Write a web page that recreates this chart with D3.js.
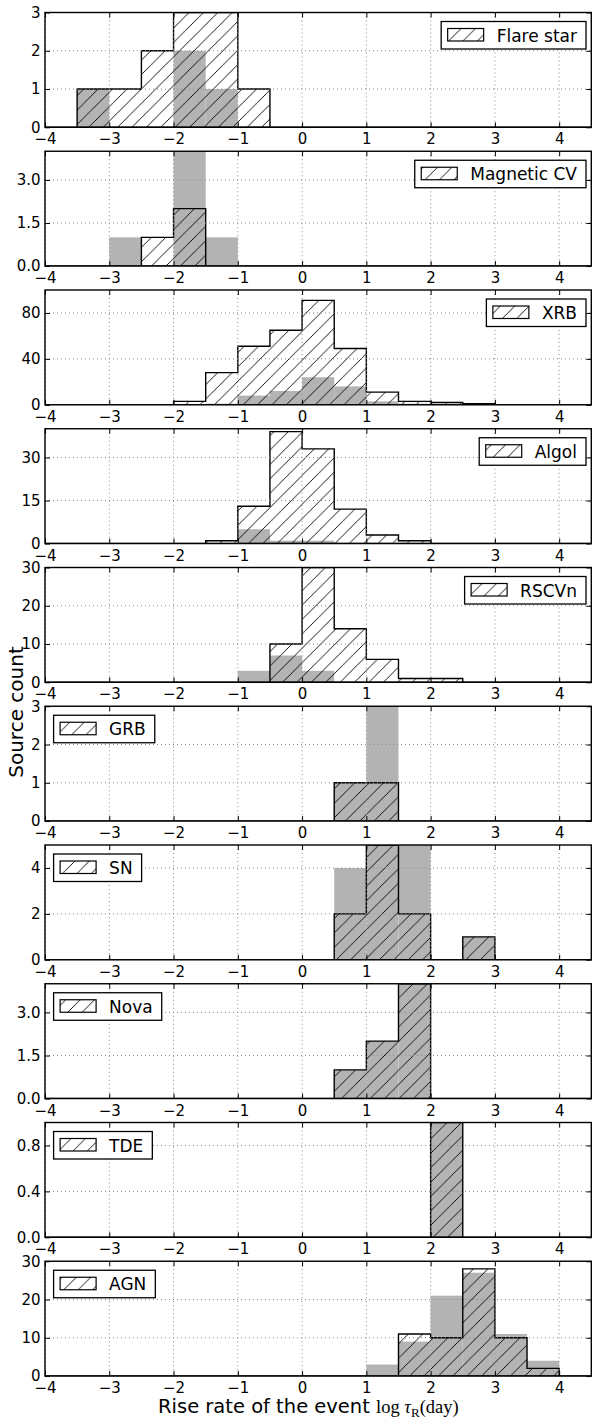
<!DOCTYPE html>
<html>
<head>
<meta charset="utf-8">
<script src="https://cdn.jsdelivr.net/npm/d3@7"></script>
<style>
  body { margin: 0; background: #fff; }
  svg { display: block; }
</style>
</head>
<body>
<script>
// Histogram bins: left edges, width 0.5 in log tau_R (day)
const binStarts = [-4, -3.5, -3, -2.5, -2, -1.5, -1, -0.5, 0, 0.5, 1, 1.5, 2, 2.5, 3, 3.5, 4];
const binWidth = 0.5;
const xTicks = [-4, -3, -2, -1, 0, 1, 2, 3, 4];

// Source classes, one panel each
const classNames = ["Flare star", "Magnetic CV", "XRB", "Algol", "RSCVn", "GRB", "SN", "Nova", "TDE", "AGN"];

// Hatched (outlined) histogram counts per bin
const flareStarHatched = [0, 1, 1, 2, 3, 3, 1, 0, 0, 0, 0, 0, 0, 0, 0, 0, 0];
const magneticCVHatched = [0, 0, 0, 1, 2, 0, 0, 0, 0, 0, 0, 0, 0, 0, 0, 0, 0];
const xrbHatched = [0, 0, 0, 0, 3, 28, 51, 65, 91, 49, 11, 3, 2, 1, 0, 0, 0];
const algolHatched = [0, 0, 0, 0, 0, 1, 13, 39, 33, 12, 3, 1, 0, 0, 0, 0, 0];
const rscvnHatched = [0, 0, 0, 0, 0, 0, 0, 10, 30, 14, 6, 1, 1, 0, 0, 0, 0];
const grbHatched = [0, 0, 0, 0, 0, 0, 0, 0, 0, 1, 1, 0, 0, 0, 0, 0, 0];
const snHatched = [0, 0, 0, 0, 0, 0, 0, 0, 0, 2, 5, 2, 0, 1, 0, 0, 0];
const novaHatched = [0, 0, 0, 0, 0, 0, 0, 0, 0, 1, 2, 4, 0, 0, 0, 0, 0];
const tdeHatched = [0, 0, 0, 0, 0, 0, 0, 0, 0, 0, 0, 0, 1, 0, 0, 0, 0];
const agnHatched = [0, 0, 0, 0, 0, 0, 0, 0, 0, 0, 0, 11, 10, 28, 10, 2, 0];

// Grey filled histogram counts per bin
const flareStarGray = [0, 1, 0, 0, 2, 1, 0, 0, 0, 0, 0, 0, 0, 0, 0, 0, 0];
const magneticCVGray = [0, 0, 1, 0, 4, 1, 0, 0, 0, 0, 0, 0, 0, 0, 0, 0, 0];
const xrbGray = [0, 0, 0, 0, 0, 1, 8, 12, 24, 16, 3, 1, 0, 0, 0, 0, 0];
const algolGray = [0, 0, 0, 0, 0, 0, 5, 1, 1, 0, 0, 0, 0, 0, 0, 0, 0];
const rscvnGray = [0, 0, 0, 0, 0, 0, 3, 7, 3, 0, 0, 0, 0, 0, 0, 0, 0];
const grbGray = [0, 0, 0, 0, 0, 0, 0, 0, 0, 1, 3, 0, 0, 0, 0, 0, 0];
const snGray = [0, 0, 0, 0, 0, 0, 0, 0, 0, 4, 5, 5, 0, 1, 0, 0, 0];
const novaGray = [0, 0, 0, 0, 0, 0, 0, 0, 0, 1, 2, 4, 0, 0, 0, 0, 0];
const tdeGray = [0, 0, 0, 0, 0, 0, 0, 0, 0, 0, 0, 0, 1, 0, 0, 0, 0];
const agnGray = [0, 0, 0, 0, 0, 0, 0, 0, 0, 0, 3, 9, 21, 27, 11, 4, 0];

// Y-axis limits and tick labels per panel
const yMaxes = [3, 4, 100, 40, 30, 3, 5, 4, 1, 30];
const yTickValues = [
  [0, 1, 2, 3],
  [0, 1.5, 3],
  [0, 40, 80],
  [0, 15, 30],
  [0, 10, 20, 30],
  [0, 1, 2, 3],
  [0, 2, 4],
  [0, 1.5, 3],
  [0, 0.4, 0.8],
  [0, 10, 20, 30]
];
const yTickFormats = ["d", ".1f", "d", "d", "d", "d", "d", ".1f", ".1f", "d"];
const legendSides = ["right", "right", "right", "right", "right", "left", "left", "left", "left", "left"];

const hatchedSeries = [flareStarHatched, magneticCVHatched, xrbHatched, algolHatched, rscvnHatched,
  grbHatched, snHatched, novaHatched, tdeHatched, agnHatched];
const graySeries = [flareStarGray, magneticCVGray, xrbGray, algolGray, rscvnGray,
  grbGray, snGray, novaGray, tdeGray, agnGray];

// ---- layout ----
const W = 592, H = 1425;
const plotLeft = 45, plotRight = 591.3;
const firstBottom = 127.3, panelStep = 138.75, panelHeight = 114.8;
const tickFont = "DejaVu Sans, Bitstream Vera Sans, sans-serif";
const grayFill = "#b3b3b3";

const svg = d3.select("body").append("svg").attr("width", W).attr("height", H);
const defs = svg.append("defs");

// diagonal "/" hatch
const hs = 14.4;
const pat = defs.append("pattern")
  .attr("id", "hatch")
  .attr("patternUnits", "userSpaceOnUse")
  .attr("width", hs).attr("height", hs);
pat.append("path")
  .attr("d", `M0,${hs} L${hs},0 M-2,2 L2,-2 M${hs - 2},${hs + 2} L${hs + 2},${hs - 2}`)
  .attr("stroke", "#000").attr("stroke-width", 0.9).attr("fill", "none");

const x = d3.scaleLinear().domain([-4, 4.5]).range([plotLeft, plotRight]);

classNames.forEach((name, i) => {
  const bottom = firstBottom + panelStep * i;
  const top = bottom - panelHeight;
  const y = d3.scaleLinear().domain([0, yMaxes[i]]).range([bottom, top]);
  const g = svg.append("g").attr("class", "panel");

  const clipId = "clip" + i;
  defs.append("clipPath").attr("id", clipId)
    .append("rect").attr("x", plotLeft).attr("y", top)
    .attr("width", plotRight - plotLeft).attr("height", panelHeight);

  const plot = g.append("g").attr("clip-path", `url(#${clipId})`);

  // grey histogram
  const grayBins = binStarts.map((b, k) => ({ b, v: graySeries[i][k] })).filter(d => d.v > 0);
  plot.selectAll("rect.gray").data(grayBins).join("rect")
    .attr("class", "gray")
    .attr("x", d => x(d.b))
    .attr("width", d => x(d.b + binWidth) - x(d.b))
    .attr("y", d => y(d.v))
    .attr("height", d => y(0) - y(d.v))
    .attr("fill", grayFill);

  // hatched step histogram
  const pts = [[binStarts[0], 0]];
  binStarts.forEach((b, k) => {
    const v = hatchedSeries[i][k];
    pts.push([b, v]);
    pts.push([b + binWidth, v]);
  });
  pts.push([binStarts[binStarts.length - 1] + binWidth, 0]);
  const line = d3.line().x(d => x(d[0])).y(d => y(d[1]));
  plot.append("path")
    .attr("d", line(pts) + "Z")
    .attr("fill", "url(#hatch)")
    .attr("stroke", "#000")
    .attr("stroke-width", 1.4)
    .attr("stroke-linejoin", "miter");

  // dotted grid
  const grid = g.append("g").attr("stroke", "#8a8a8a").attr("stroke-width", 1)
    .attr("stroke-dasharray", "1,3");
  grid.selectAll("line.gx").data(xTicks).join("line")
    .attr("x1", d => x(d)).attr("x2", d => x(d))
    .attr("y1", top).attr("y2", bottom);
  grid.selectAll("line.gy").data(yTickValues[i]).join("line")
    .attr("x1", plotLeft).attr("x2", plotRight)
    .attr("y1", d => y(d)).attr("y2", d => y(d));

  // axes with inward ticks on all sides
  const fmt = d3.format(yTickFormats[i]);
  const styleAxis = sel => {
    sel.attr("font-family", tickFont).attr("font-size", 15);
    sel.select(".domain").remove();
    sel.selectAll(".tick line").attr("stroke", "#000").attr("stroke-width", 1);
    sel.selectAll(".tick text").attr("fill", "#000");
  };
  g.append("g").attr("transform", `translate(0,${bottom})`)
    .call(d3.axisBottom(x).tickValues(xTicks).tickSizeInner(-5).tickSizeOuter(0).tickPadding(6.5))
    .call(styleAxis);
  g.append("g").attr("transform", `translate(0,${top})`)
    .call(d3.axisTop(x).tickValues(xTicks).tickSizeInner(-5).tickSizeOuter(0).tickFormat(""))
    .call(styleAxis);
  g.append("g").attr("transform", `translate(${plotLeft},0)`)
    .call(d3.axisLeft(y).tickValues(yTickValues[i]).tickFormat(fmt).tickSizeInner(-5).tickSizeOuter(0).tickPadding(4.5))
    .call(styleAxis);
  g.append("g").attr("transform", `translate(${plotRight},0)`)
    .call(d3.axisRight(y).tickValues(yTickValues[i]).tickSizeInner(-5).tickSizeOuter(0).tickFormat(""))
    .call(styleAxis);

  // frame
  g.append("rect")
    .attr("x", plotLeft).attr("y", top)
    .attr("width", plotRight - plotLeft).attr("height", panelHeight)
    .attr("fill", "none").attr("stroke", "#000").attr("stroke-width", 1.4);

  // legend
  const lg = g.append("g");
  const box = lg.append("rect").attr("fill", "#fff").attr("stroke", "#000").attr("stroke-width", 1.3);
  const patch = lg.append("rect").attr("fill", "url(#hatch)").attr("stroke", "#000").attr("stroke-width", 1.2);
  const label = lg.append("text").text(name)
    .attr("font-family", tickFont).attr("font-size", 17).attr("fill", "#000");
  const tw = label.node().getComputedTextLength();
  const boxW = 6.5 + 36 + 13 + tw + 9;
  const boxH = 27.5;
  const boxX = legendSides[i] === "right" ? 586 - boxW : 53.6;
  const boxY = top + 9;
  box.attr("x", boxX).attr("y", boxY).attr("width", boxW).attr("height", boxH);
  patch.attr("x", boxX + 6.5).attr("y", boxY + 7).attr("width", 36).attr("height", 12.5);
  label.attr("x", boxX + 6.5 + 36 + 13).attr("y", boxY + 20);
});

// axis titles
svg.append("text")
  .attr("transform", "translate(23,712) rotate(-90)")
  .attr("text-anchor", "middle")
  .attr("font-family", tickFont).attr("font-size", 20)
  .text("Source count");

const xl = svg.append("text")
  .attr("x", 158).attr("y", 1413)
  .attr("font-family", tickFont).attr("font-size", 19.5);
xl.append("tspan").text("Rise rate of the event ");
const serif = "Liberation Serif, Times New Roman, serif";
xl.append("tspan").attr("font-family", serif).attr("font-size", 18.5).text("log ");
xl.append("tspan").attr("font-family", serif).attr("font-size", 18.5).attr("font-style", "italic").text("τ");
xl.append("tspan").attr("font-family", serif).attr("font-size", 13).attr("dy", 4).text("R");
xl.append("tspan").attr("font-family", serif).attr("font-size", 18.5).attr("dy", -4).text("(day)");
</script>
</body>
</html>
